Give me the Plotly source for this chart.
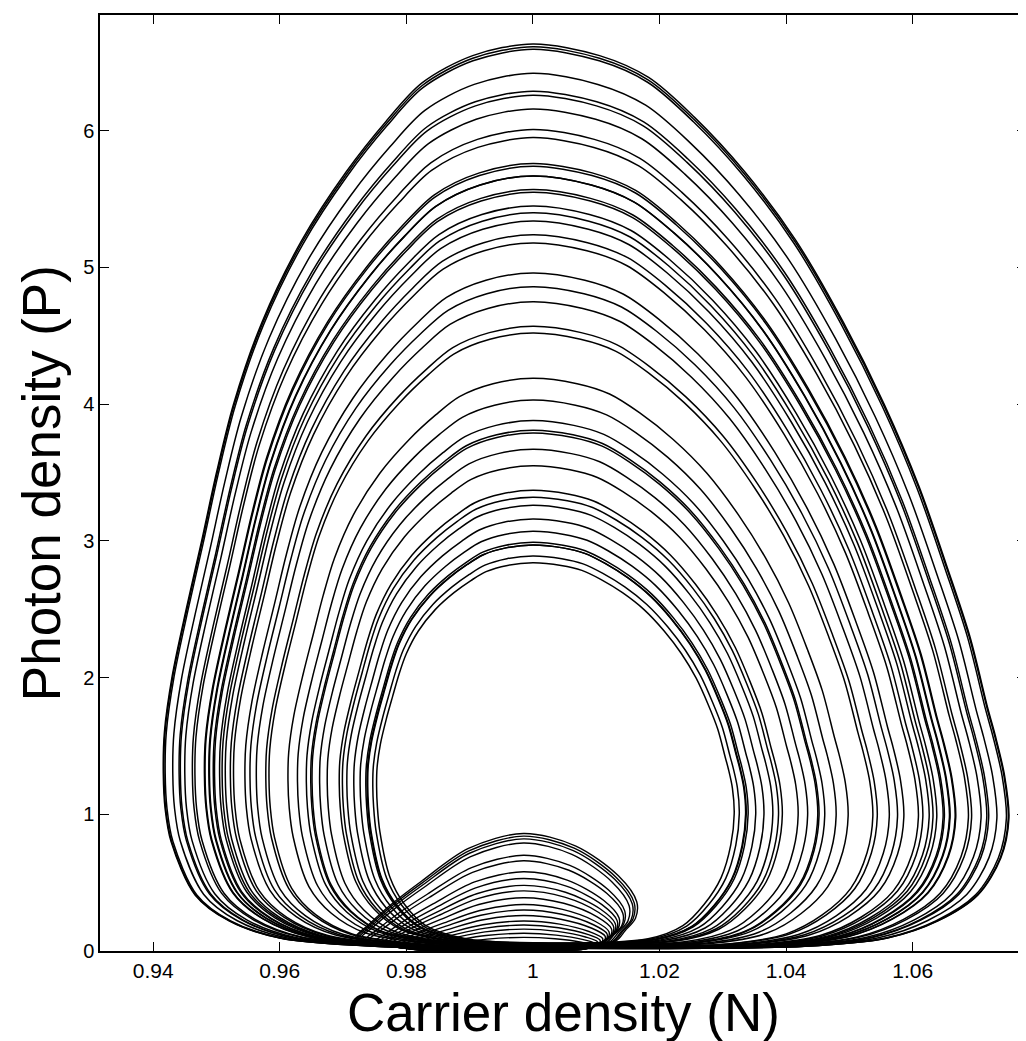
import math
import plotly.graph_objects as go

# ---- data ----
# large loops: peak photon density (at N = 1), left-most and right-most carrier density
loop_peak = [6.635, 6.615, 6.596, 6.42, 6.29, 6.26, 6.16, 6.01, 5.95, 5.76, 5.74, 5.67, 5.67,
             5.57, 5.55, 5.45, 5.40, 5.34, 5.24, 5.18, 4.96, 4.86, 4.75, 4.57, 4.52, 4.19,
             4.03, 3.88, 3.81, 3.79, 3.67, 3.55, 3.37, 3.32, 3.26, 3.16, 3.07, 2.99, 2.97,
             2.97, 2.89, 2.84]
loop_nmin = [0.9416, 0.9417, 0.9419, 0.9431, 0.9441, 0.9443, 0.9450, 0.9462, 0.9466, 0.9481,
             0.9482, 0.9488, 0.9489, 0.9495, 0.9497, 0.9505, 0.9509, 0.9514, 0.9522, 0.9527,
             0.9545, 0.9553, 0.9563, 0.9578, 0.9583, 0.9613, 0.9628, 0.9642, 0.9649, 0.9651,
             0.9663, 0.9675, 0.9694, 0.9699, 0.9706, 0.9717, 0.9727, 0.9736, 0.9738, 0.9739,
             0.9747, 0.9753]
loop_nmax = [1.0752, 1.0751, 1.0748, 1.0733, 1.0720, 1.0717, 1.0708, 1.0693, 1.0688, 1.0668,
             1.0667, 1.0659, 1.0658, 1.0650, 1.0648, 1.0638, 1.0632, 1.0626, 1.0616, 1.0609,
             1.0586, 1.0576, 1.0563, 1.0544, 1.0537, 1.0498, 1.0479, 1.0461, 1.0452, 1.0450,
             1.0434, 1.0419, 1.0394, 1.0388, 1.0379, 1.0365, 1.0352, 1.0340, 1.0337, 1.0336,
             1.0326, 1.0318]

# outline of the outer loop: fraction of half-width, and P
outer_u = [0, -0.163, -0.300, -0.397, -0.505, -0.625, -0.733, -0.810, -0.856, -0.897, -0.938,
           -0.976, -0.997, -1.0, -0.995, -0.979, -0.914, -0.822, -0.685, -0.428, 0,
           0.572, 0.745, 0.851, 0.935, 0.983, 1.0, 0.991, 0.971, 0.956, 0.918, 0.871, 0.811,
           0.738, 0.652, 0.552, 0.445, 0.339, 0.243, 0.140, 0]
outer_p = [6.635, 6.55, 6.35, 6.07, 5.7, 5.2, 4.6, 4.0, 3.5, 2.99, 2.5,
           2.01, 1.6, 1.3, 1.04, 0.80, 0.41, 0.22, 0.095, 0.035, 0.02,
           0.035, 0.095, 0.22, 0.41, 0.68, 0.97, 1.28, 1.58, 1.77, 2.3, 2.8, 3.4,
           4.0, 4.6, 5.2, 5.7, 6.1, 6.39, 6.55, 6.635]

# small loops near the bottom
small_peak = [0.86, 0.84, 0.82, 0.79, 0.70, 0.66, 0.58, 0.53, 0.48, 0.44, 0.39, 0.34, 0.30,
              0.26, 0.22, 0.19, 0.16, 0.13, 0.10]
small_nmin = [0.972, 0.9722, 0.9725, 0.9728, 0.9735, 0.974, 0.975, 0.9755, 0.976, 0.9765,
              0.977, 0.9775, 0.978, 0.9785, 0.979, 0.9795, 0.980, 0.9805, 0.981]
small_nmax = [1.0164, 1.0160, 1.0157, 1.0152, 1.0145, 1.0142, 1.0136, 1.0133, 1.0130, 1.0127,
              1.0124, 1.0120, 1.0117, 1.0114, 1.0110, 1.0106, 1.0102, 1.0098, 1.0094]
small_ncenter = 0.9985
small_u = [0, -0.328, -0.608, -0.789, -0.925, -1.0, -0.887, -0.321, 0.363, 0.810, 0.899,
           0.989, 1.0, 0.838, 0.458, 0]
small_v = [1.0, 0.872, 0.593, 0.395, 0.221, 0.116, 0.058, 0.041, 0.041, 0.081, 0.174, 0.279,
           0.419, 0.640, 0.895, 1.0]

x_ticks = [0.94, 0.96, 0.98, 1.0, 1.02, 1.04, 1.06]
x_ticktext = ["0.94", "0.96", "0.98", "1", "1.02", "1.04", "1.06"]
y_ticks = [0, 1, 2, 3, 4, 5, 6]

fig = go.Figure()
P_REF = 1.1
OUT_PEAK = outer_p[0]

for pk, nl, nr in zip(loop_peak, loop_nmin, loop_nmax):
    b_up = math.log(pk / P_REF) / math.log(OUT_PEAK / P_REF)
    b_low = math.sqrt(b_up)
    xs, ys = [], []
    for u, p in zip(outer_u, outer_p):
        xs.append(1 + u * (1 - nl) if u < 0 else 1 + u * (nr - 1))
        b = b_up if p >= P_REF else b_low
        ys.append(P_REF * math.exp(b * math.log(p / P_REF)))
    fig.add_trace(go.Scatter(x=xs, y=ys, mode="lines",
                             line=dict(color="black", width=1.5, shape="spline", smoothing=0.9),
                             hoverinfo="skip", showlegend=False))

for pk, nl, nr in zip(small_peak, small_nmin, small_nmax):
    xs, ys = [], []
    for u, v in zip(small_u, small_v):
        xs.append(small_ncenter + u * (small_ncenter - nl) if u < 0 else small_ncenter + u * (nr - small_ncenter))
        ys.append(v * pk)
    fig.add_trace(go.Scatter(x=xs, y=ys, mode="lines",
                             line=dict(color="black", width=1.4, shape="spline", smoothing=0.9),
                             hoverinfo="skip", showlegend=False))

font_family = "Liberation Sans, Arial, Helvetica, sans-serif"
axis_common = dict(showgrid=False, zeroline=False, showline=True, linecolor="black", linewidth=1.5,
                   mirror="ticks", ticks="inside", ticklen=9, tickcolor="black", tickwidth=1.2)

fig.update_layout(
    width=1026, height=1041,
    margin=dict(l=92, r=8, t=5, b=98),
    paper_bgcolor="white", plot_bgcolor="white",
    xaxis=dict(range=[0.9316, 1.0779], tickvals=x_ticks, ticktext=x_ticktext,
               tickfont=dict(family=font_family, size=21, color="black"), **axis_common),
    yaxis=dict(range=[0, 6.847], tickvals=y_ticks,
               tickfont=dict(family=font_family, size=20, color="black"), **axis_common),
    annotations=[
        dict(text="Carrier density (N)", xref="paper", yref="paper", x=0.5, y=-0.066,
             xanchor="center", yanchor="middle", showarrow=False,
             font=dict(family=font_family, size=53, color="black")),
        dict(text="Photon density (P)", xref="paper", yref="paper", x=-0.0635, y=0.5,
             xanchor="center", yanchor="middle", textangle=-90, showarrow=False,
             font=dict(family=font_family, size=53, color="black")),
    ],
)

fig.write_html("out.html")
